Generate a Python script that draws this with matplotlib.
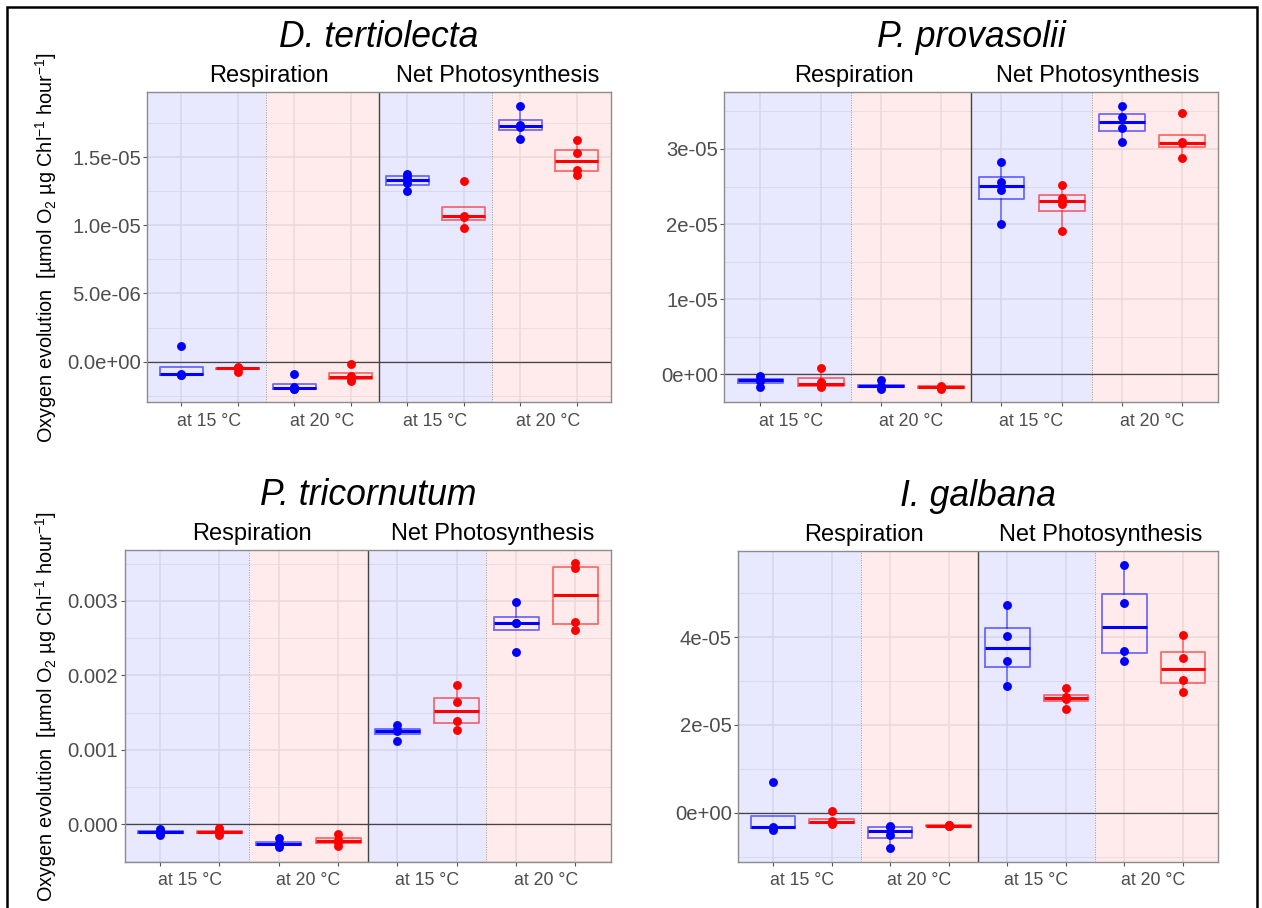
import matplotlib
matplotlib.use("Agg")
import matplotlib.pyplot as plt
from matplotlib.patches import Rectangle
import numpy as np

plt.rcParams['font.family'] = ['Liberation Sans', 'DejaVu Sans']
plt.rcParams['mathtext.default'] = 'regular'

# ---------------- data ----------------
species = ["D. tertiolecta", "P. provasolii", "P. tricornutum", "I. galbana"]
facets = ["Respiration", "Net Photosynthesis"]
temps = ["at 15 °C", "at 20 °C"]
colors = ["#0000FF", "#FF0000"]

# each list: [blue@15, red@15, blue@20, red@20]
dt_resp = [[-1.0e-6, -0.95e-6, -0.9e-6, 1.15e-6],
           [-0.75e-6, -0.5e-6, -0.45e-6, -0.4e-6],
           [-2.02e-6, -1.97e-6, -1.87e-6, -0.93e-6],
           [-1.4e-6, -1.2e-6, -1.05e-6, -0.2e-6]]
dt_np = [[1.248e-5, 1.31e-5, 1.355e-5, 1.375e-5],
         [0.983e-5, 1.06e-5, 1.07e-5, 1.326e-5],
         [1.63e-5, 1.72e-5, 1.735e-5, 1.877e-5],
         [1.365e-5, 1.407e-5, 1.529e-5, 1.625e-5]]

pp_resp = [[-1.64e-6, -0.95e-6, -0.7e-6, -0.25e-6],
           [-1.7e-6, -1.6e-6, -1.0e-6, 0.9e-6],
           [-1.9e-6, -1.65e-6, -1.6e-6, -0.8e-6],
           [-1.95e-6, -1.75e-6, -1.65e-6, -1.5e-6]]
pp_np = [[2.006e-5, 2.45e-5, 2.561e-5, 2.827e-5],
         [1.904e-5, 2.27e-5, 2.35e-5, 2.526e-5],
         [3.098e-5, 3.285e-5, 3.422e-5, 3.573e-5],
         [2.885e-5, 3.08e-5, 3.09e-5, 3.475e-5]]

pt_resp = [[-0.145e-3, -0.115e-3, -0.105e-3, -0.065e-3],
           [-0.15e-3, -0.105e-3, -0.095e-3, -0.055e-3],
           [-0.31e-3, -0.27e-3, -0.26e-3, -0.18e-3],
           [-0.29e-3, -0.24e-3, -0.21e-3, -0.125e-3]]
pt_np = [[1.124e-3, 1.25e-3, 1.265e-3, 1.33e-3],
         [1.263e-3, 1.388e-3, 1.648e-3, 1.867e-3],
         [2.315e-3, 2.70e-3, 2.71e-3, 2.991e-3],
         [2.606e-3, 2.72e-3, 3.44e-3, 3.507e-3]]

ig_resp = [[-0.395e-5, -0.34e-5, -0.33e-5, 0.69e-5],
           [-0.25e-5, -0.23e-5, -0.2e-5, 0.04e-5],
           [-0.797e-5, -0.51e-5, -0.33e-5, -0.3e-5],
           [-0.3e-5, -0.3e-5, -0.29e-5, -0.27e-5]]
ig_np = [[2.877e-5, 3.461e-5, 4.03e-5, 4.729e-5],
         [2.36e-5, 2.59e-5, 2.64e-5, 2.839e-5],
         [3.461e-5, 3.689e-5, 4.774e-5, 5.64e-5],
         [2.748e-5, 3.028e-5, 3.529e-5, 4.046e-5]]

dt_yticks = [0, 5e-6, 1e-5, 1.5e-5]
dt_ylabels = ["0.0e+00", "5.0e-06", "1.0e-05", "1.5e-05"]
pp_yticks = [0, 1e-5, 2e-5, 3e-5]
pp_ylabels = ["0e+00", "1e-05", "2e-05", "3e-05"]
pt_yticks = [0, 0.001, 0.002, 0.003]
pt_ylabels = ["0.000", "0.001", "0.002", "0.003"]
ig_yticks = [0, 2e-5, 4e-5]
ig_ylabels = ["0e+00", "2e-05", "4e-05"]

ylabel = "Oxygen evolution  [µmol O$_2$ µg Chl$^{-1}$ hour$^{-1}$]"

# ---------------- layout ----------------
W, H = 1262, 908
fig = plt.figure(figsize=(W / 100, H / 100), dpi=100)

def px_axes(l, t, r, b):
    return fig.add_axes([l / W, 1 - b / H, (r - l) / W, (b - t) / H])

panels = [
    dict(name=species[0], resp=dt_resp, np_=dt_np, yt=dt_yticks, yl=dt_ylabels,
         box=(147.3, 92.3, 610.7, 402.3), ylim=(-2.98e-6, 1.975e-5), ylab=True),
    dict(name=species[1], resp=pp_resp, np_=pp_np, yt=pp_yticks, yl=pp_ylabels,
         box=(724.3, 92.3, 1218.3, 402.3), ylim=(-0.373e-5, 3.755e-5), ylab=False),
    dict(name=species[2], resp=pt_resp, np_=pt_np, yt=pt_yticks, yl=pt_ylabels,
         box=(124.5, 550, 611, 862), ylim=(-0.000507, 0.003685), ylab=True),
    dict(name=species[3], resp=ig_resp, np_=ig_np, yt=ig_yticks, yl=ig_ylabels,
         box=(738, 551, 1218, 862), ylim=(-1.123e-5, 5.96e-5), ylab=False),
]

grid_col = "#EBEBEB"
for p in panels:
    l, t, r, b = p["box"]
    ax = px_axes(l, t, r, b)
    ax.set_facecolor("white")
    ax.set_xlim(0.4, 8.6)
    ax.set_ylim(*p["ylim"])
    yt = p["yt"]
    step = yt[1] - yt[0]
    # grid lines
    minors = np.arange(yt[0] - step * 1.5, yt[-1] + step, step)
    for m in minors:
        ax.axhline(m + step, color=grid_col, lw=0.6, zorder=0.5)
    for v in yt:
        ax.axhline(v, color=grid_col, lw=1.1, zorder=0.6)
    for xx in range(1, 9):
        ax.axvline(xx, color=grid_col, lw=1.1, zorder=0.6)
    # shaded temperature backgrounds
    ax.axvspan(0.4, 2.5, color="#0000FF", alpha=0.09, lw=0, zorder=1)
    ax.axvspan(2.5, 4.5, color="#FF0000", alpha=0.08, lw=0, zorder=1)
    ax.axvspan(4.5, 6.5, color="#0000FF", alpha=0.09, lw=0, zorder=1)
    ax.axvspan(6.5, 8.6, color="#FF0000", alpha=0.08, lw=0, zorder=1)
    ax.axvline(2.5, color="#9A9A9A", lw=0.7, ls=(0, (1, 1.5)), zorder=2)
    ax.axvline(6.5, color="#9A9A9A", lw=0.7, ls=(0, (1, 1.5)), zorder=2)
    ax.axvline(4.5, color="#444444", lw=1.0, zorder=2)
    ax.axhline(0, color="#444444", lw=0.9, zorder=2)

    groups = list(p["resp"]) + list(p["np_"])
    for i, vals in enumerate(groups):
        pos = i + 1
        c = colors[i % 2]
        ax.boxplot([vals], positions=[pos], widths=0.76, whis=1.5,
                   showfliers=False, showcaps=False, manage_ticks=False,
                   boxprops=dict(color=c, alpha=0.55, lw=1.3),
                   whiskerprops=dict(color=c, alpha=0.55, lw=1.1),
                   medianprops=dict(color=c, lw=2.2, solid_capstyle="butt"),
                   zorder=3)
        ax.plot([pos] * len(vals), vals, "o", color=c, ms=6.4, mec="none", zorder=4)

    for s in ax.spines.values():
        s.set_color("#8C8C8C")
        s.set_linewidth(1.0)
    ax.set_yticks(yt)
    ax.set_yticklabels(p["yl"])
    ax.set_xticks(range(1, 9))
    ax.set_xticklabels([""] * 8)
    ax.set_xticks([1.5, 3.5, 5.5, 7.5], minor=True)
    ax.set_xticklabels(temps * 2, minor=True)
    ax.tick_params(axis="x", which="minor", length=0, pad=7.5, labelsize=12.8,
                   labelcolor="#4D4D4D")
    ax.tick_params(axis="x", which="major", length=3, width=0.8, color="#555555")
    ax.tick_params(axis="y", which="major", length=3, width=0.8, color="#555555",
                   pad=1.5, labelsize=14.6, labelcolor="#4D4D4D")
    ax.tick_params(axis="y", which="minor", left=False)

    # strip labels
    for fx, name in zip([2.55, 6.6], facets):
        ax.annotate(name, xy=(fx, 1), xycoords=("data", "axes fraction"),
                    xytext=(0, 3.5), textcoords="offset points",
                    ha="center", va="bottom", fontsize=17, color="black")
    # title
    fig.text((l + r) / 2 / W, 1 - (t - 45) / H, p["name"], ha="center",
             va="baseline", fontsize=25.6, style="italic", color="black")
    if p["ylab"]:
        fig.text(46 / W, 1 - (t + b) / 2 / H, ylabel, rotation=90, ha="center",
                 va="center", fontsize=14.3, color="black")

# outer frame
fig.add_artist(Rectangle((7 / W, -0.02), (1257 - 7) / W, 1 - 7 / H + 0.02,
                         transform=fig.transFigure, fill=False, ec="black",
                         lw=1.8, clip_on=False))

fig.savefig("out.png", dpi=100)
